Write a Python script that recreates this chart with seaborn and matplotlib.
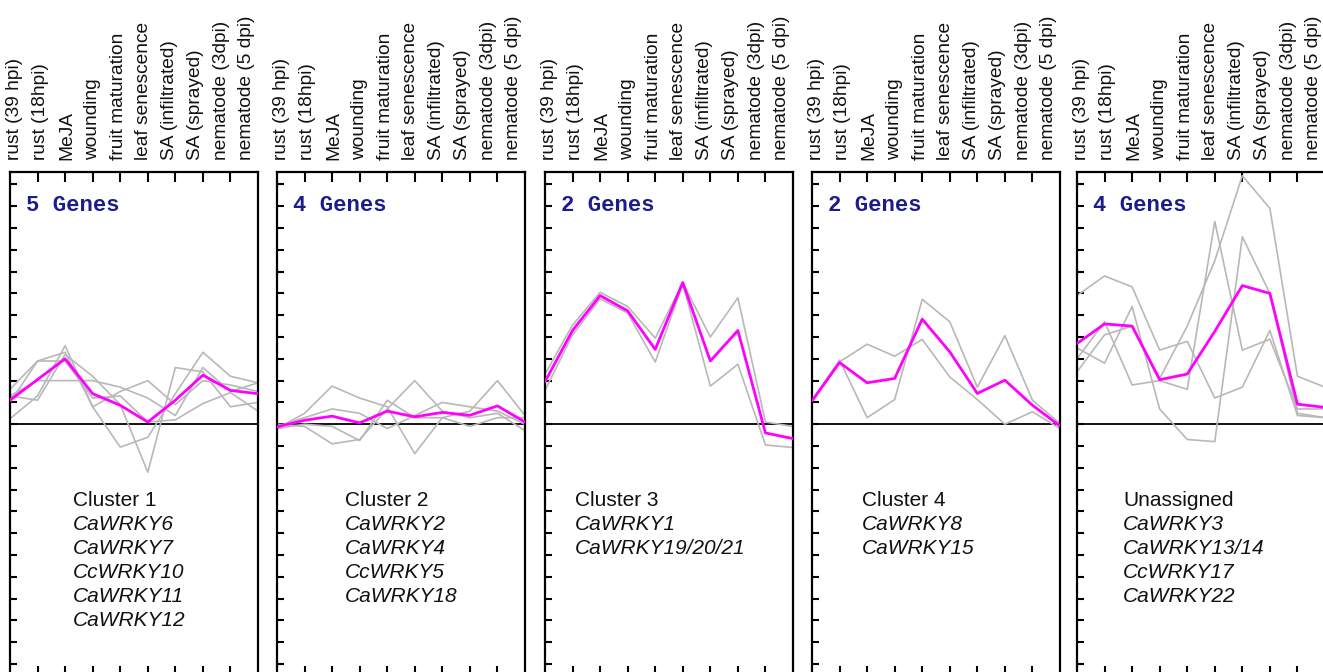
import matplotlib
matplotlib.use("Agg")
import matplotlib.pyplot as plt
import pandas as pd
import seaborn as sns

output_file = "out.png"

conditions = [
    "rust (39 hpi)", "rust (18hpi)", "MeJA", "wounding", "fruit maturation",
    "leaf senescence", "SA (infiltrated)", "SA (sprayed)",
    "nematode (3dpi)", "nematode (5 dpi)",
]

cluster_titles = ["Cluster 1", "Cluster 2", "Cluster 3", "Cluster 4", "Unassigned"]
cluster_genes = [
    ["CaWRKY6", "CaWRKY7", "CcWRKY10", "CaWRKY11", "CaWRKY12"],
    ["CaWRKY2", "CaWRKY4", "CcWRKY5", "CaWRKY18"],
    ["CaWRKY1", "CaWRKY19/20/21"],
    ["CaWRKY8", "CaWRKY15"],
    ["CaWRKY3", "CaWRKY13/14", "CcWRKY17", "CaWRKY22"],
]

# expression profiles (one list per gene)
cluster1_profiles = [
    [0.25, 1.3, 3.6, 0.8, -1.05, -0.6, 1.4, 3.3, 2.2, 1.9],
    [1.3, 2.0, 2.0, 2.0, 1.7, 1.2, 0.4, 2.6, 1.5, 1.9],
    [1.6, 2.9, 3.3, 0.8, 1.5, 2.0, 0.9, 2.0, 1.8, 1.5],
    [1.3, 1.1, 3.2, 2.2, 0.9, -2.2, 2.6, 2.4, 0.8, 1.0],
    [1.0, 2.9, 2.9, 1.2, 1.3, 0.1, 0.2, 0.95, 1.45, 0.6],
]
cluster2_profiles = [
    [-0.2, 0.5, 1.75, 1.2, 0.8, -1.35, 0.3, 0.6, 2.0, 0.4],
    [0.0, -0.1, -0.9, -0.7, 0.7, 2.0, 0.6, 0.3, 0.5, -0.3],
    [-0.1, 0.3, 0.7, 0.5, -0.2, 0.4, 1.0, 0.8, 0.6, 0.0],
    [-0.2, 0.0, -0.1, -0.75, 1.1, 0.3, 0.3, -0.1, 0.3, 0.3],
]
cluster3_profiles = [
    [2.3, 4.55, 6.05, 5.4, 3.95, 6.5, 4.0, 5.8, 0.1, -0.1],
    [1.55, 4.1, 5.75, 5.1, 2.85, 6.45, 1.75, 2.75, -0.95, -1.07],
]
cluster4_profiles = [
    [1.1, 2.94, 0.3, 1.13, 5.73, 4.7, 1.7, 4.06, 1.1, 0.03],
    [1.05, 2.86, 3.67, 3.12, 3.89, 2.17, 1.13, 0.0, 0.57, -0.2],
]
unassigned_profiles = [
    [5.9, 6.8, 6.3, 3.4, 3.8, 1.2, 1.7, 4.3, 0.4, 0.3],
    [3.5, 2.8, 5.4, 0.7, -0.7, -0.8, 8.6, 6.0, 0.5, 0.3],
    [3.0, 4.7, 1.8, 2.0, 1.6, 9.3, 3.4, 3.9, 0.7, 0.7],
    [2.4, 4.1, 4.5, 2.1, 4.5, 7.5, 11.4, 9.9, 2.2, 1.7],
]

# cluster centroids (magenta)
cluster1_centroid = [1.1, 2.05, 3.0, 1.4, 0.87, 0.1, 1.1, 2.25, 1.55, 1.4]
cluster2_centroid = [-0.12, 0.18, 0.37, 0.06, 0.6, 0.34, 0.54, 0.41, 0.84, 0.1]
cluster3_centroid = [1.95, 4.3, 5.9, 5.2, 3.43, 6.5, 2.9, 4.3, -0.4, -0.66]
cluster4_centroid = [1.07, 2.83, 1.9, 2.1, 4.82, 3.32, 1.41, 2.02, 0.87, -0.08]
unassigned_centroid = [3.7, 4.6, 4.5, 2.04, 2.3, 4.26, 6.36, 6.0, 0.92, 0.77]

profiles = [cluster1_profiles, cluster2_profiles, cluster3_profiles,
            cluster4_profiles, unassigned_profiles]
centroids = [cluster1_centroid, cluster2_centroid, cluster3_centroid,
             cluster4_centroid, unassigned_centroid]

sns.set_style("white")
plt.rcParams["font.family"] = ["Liberation Sans", "DejaVu Sans"]

W, H = 1323, 672
fig = plt.figure(figsize=(W / 100, H / 100), dpi=100)

panel_left = [10, 277, 545, 812, 1077]
text_x = [2.29, 2.47, 1.09, 1.81, 1.67]
label_x = [0.18 + j * (8.42 / 9) for j in range(10)]

for i in range(5):
    ax = fig.add_axes([panel_left[i] / W, -4 / H, 248 / W, 504 / H])

    rows = []
    for g, prof in enumerate(profiles[i]):
        for j, v in enumerate(prof):
            rows.append({"gene": g, "x": j, "value": v})
    df = pd.DataFrame(rows)
    sns.lineplot(data=df, x="x", y="value", units="gene", estimator=None,
                 color="#b8b8b8", lw=1.2, ax=ax, zorder=2)
    cdf = pd.DataFrame({"x": range(len(centroids[i])), "value": centroids[i]})
    sns.lineplot(data=cdf, x="x", y="value", color="#ff00ff", lw=2.0,
                 ax=ax, zorder=3)
    ax.axhline(0, color="black", lw=1.3, zorder=1.5)

    ax.set_xlim(0, 9)
    ax.set_ylim(-11.55, 11.57)
    ax.set_xticks(range(1, 9))
    ax.set_yticks(range(-11, 12))
    ax.set_xlabel("")
    ax.set_ylabel("")
    ax.tick_params(axis="x", direction="in", top=True, bottom=True,
                   labelbottom=False, length=7, width=1.5, color="black")
    ax.tick_params(axis="y", direction="in", left=True, right=False,
                   labelleft=False, length=5, width=1.5, color="black")
    for sp in ax.spines.values():
        sp.set_color("black")
        sp.set_linewidth(1.6)

    ax.text(0.58, 10.05, f"{len(profiles[i])} Genes", family="Liberation Mono",
            weight="bold", fontsize=16, color="#1c1c8c", va="center")

    for j, lab in enumerate(conditions):
        ax.annotate(lab, xy=(label_x[j], 1), xycoords=("data", "axes fraction"),
                    xytext=(0, 9), textcoords="offset points", rotation=90,
                    ha="center", va="bottom", fontsize=13.8, color="#111111",
                    annotation_clip=False)

    ax.text(text_x[i], -3.5, cluster_titles[i], fontsize=15, va="center",
            color="#111111")
    for k, name in enumerate(cluster_genes[i]):
        ax.text(text_x[i], -3.5 - 1.1 * (k + 1), name, fontsize=15,
                style="italic", va="center", color="#111111")

plt.savefig(output_file, dpi=100)
